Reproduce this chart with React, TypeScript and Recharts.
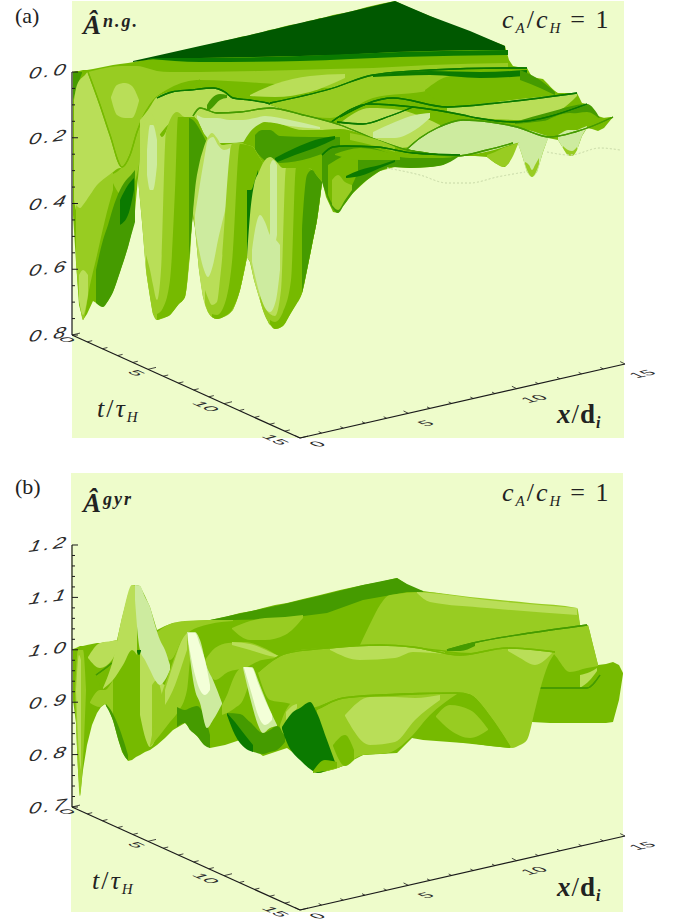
import React from 'react';
import { ComposedChart, Area, XAxis, YAxis, ReferenceLine, ReferenceDot } from 'recharts';

// readings, as [across, top, bottom]; one value pair means a crest line
type Reading = number[];

const BG = '#EEFCCB';
const DK = '#005800';
const D1 = '#0B7A00';
const D2 = '#459B00';
const M1 = '#76BA00';
const M2 = '#98CC22';
const L1 = '#B9DE58';
const L2 = '#CDEB9F';
const WH = '#F3FFD8';
const FAINT = '#CFE0AE';

const tTicks = [0, 1, 2, 3, 4, 5, 6, 7, 8, 9, 10, 11, 12, 13, 14, 15];
const xTicks = [0, 1, 2, 3, 4, 5, 6, 7, 8, 9, 10, 11, 12, 13, 14, 15];
const ampMajorA = [0, 0.2, 0.4, 0.6, 0.8];
const ampMinorA = [0.05, 0.1, 0.15, 0.25, 0.3, 0.35, 0.45, 0.5, 0.55, 0.65, 0.7, 0.75];
const ampMajorB = [0.7, 0.8, 0.9, 1.0, 1.1, 1.2];
const ampMinorB = [0.72, 0.74, 0.76, 0.78, 0.82, 0.84, 0.86, 0.88, 0.92, 0.94, 0.96, 0.98, 1.02, 1.04, 1.06, 1.08, 1.12, 1.14, 1.16, 1.18];

// panel (a)
const aBg: Reading[] = [[72, 1, 438], [624, 1, 438]];
const aBase: Reading[] = [[73,72,215],[76,71,262],[79,71,305],[83,70,320],[87,70,314],[93,69,301],[98,68,304],[103,67,307],[108,66,301],[113,65,292],[120,64,272],[128,63,247],[134,62,222],[138,61,178],[142,60,222],[146,60,270],[150,59,297],[153,58,314],[157,57,320],[162,56,318],[170,54,315],[178,52,305],[185,50,297],[190,49,255],[192,49,213],[195,48,228],[199,47,270],[203,46,297],[208,45,312],[212,44,317],[217,43,319],[223,41,316],[228,40,314],[233,39,310],[240,37,290],[245,36,268],[247,36,257],[250,35,262],[254,34,280],[259,33,297],[263,32,310],[269,30,324],[275,29,329],[282,27,326],[290,25,313],[297,24,302],[302,23,293],[308,21,265],[314,20,235],[317,19,220],[320,18,195],[322,18,180],[326,17,197],[333,15,212],[338,14,213],[344,13,205],[353,11,193],[367,7,180],[380,4,171],[395,1,167],[410,8,168],[430,16,167],[443,22,165],[458,28,156],[475,34,156],[487,39,157],[495,42,163],[503,45,167],[505,46,167],[509,60,163],[513,66,152],[518,67,143],[522,67,155],[527,68,172],[532,77,177],[537,78,172],[543,79,152],[548,84,138],[553,90,139],[558,93,140],[563,93,148],[568,93,155],[572,93,156],[577,93,150],[582,103,136],[587,104,128],[592,110,129],[598,116,131],[604,118,128],[613,117,117]];
const aSheet: Reading[] = [[133,61,62],[160,55,58],[200,46,58],[250,35,57],[300,23,56],[340,14,55],[395,1,52],[430,16,51],[470,31,50],[505,46,50]];
const aSheetBand: Reading[] = [[150,58,59],[200,58,62],[300,56,61],[400,52,57],[508,50,55]];
const aCorner: Reading[] = [[73,72,100],[76,72,90],[82,72,73]];
const aUpper: Reading[] = [[88,72,72],[100,69,105],[110,67,135],[122,66,167],[130,66,155],[137,66,132],[143,67,117],[150,69,105],[157,71,97],[170,72,88],[185,72,82],[200,72,80],[260,71,83],[330,69,88],[373,68,75],[430,65,70],[508,63,68]];
const aBlob: Reading[] = [[111,97,98],[117,85,115],[125,83,118],[132,86,118],[139,100,101]];
const aHatch: Reading[] = [[250,95,96],[275,84,97],[310,76,92],[345,74,78]];
const aLeftLight: Reading[] = [[74,100,200],[77,85,212],[85,75,205],[88,72,200],[92,82,195],[100,105,185],[110,135,175],[120,165,168],[122,167,168]];
const aShoulder: Reading[] = [[110,175,176],[122,167,195],[130,150,190],[138,125,170],[145,110,115]];
const aBackLobe: Reading[] = [[140,120,165],[148,110,150],[157,97,138],[175,91,120],[190,90,118],[213,88,112],[233,98,112],[267,103,110],[285,108,110]];
const aBackFold: Reading[] = [[207,105,112],[212,98,108],[220,94,100],[227,95,98]];
const aCrestOne: Reading[] = [[88,72],[100,105],[110,135],[122,167],[130,155],[137,132],[143,117],[150,105],[157,97],[165,92],[180,88],[200,80]];
const aCrestTwo: Reading[] = [[157,98],[172,92],[190,90],[213,88],[225,92],[233,98],[250,100],[267,103],[285,109]];
const aRightMid: Reading[] = [[270,104,105],[330,89,118],[373,75,98],[430,72,90],[470,72,74]];
const aRightBand: Reading[] = [[425,90,91],[450,76,105],[500,72,100],[540,80,100],[557,93,94]];
const aRidgeStreak: Reading[] = [[373,75,77],[430,71,75],[480,72,78],[527,70,76]];
const aEdgeStreak: Reading[] = [[520,70,80],[540,80,88],[555,92,95]];
const aRidgeTwo: Reading[] = [[270,103],[330,89],[373,75],[430,70],[503,68],[527,68]];
const aLowLight: Reading[] = [[340,123,140],[370,108,145],[400,110,148],[425,118,140],[440,125,130]];
const aLowPale: Reading[] = [[373,132,138],[395,122,138],[415,115,130],[430,113,118]];
const aBandLight: Reading[] = [[447,108,112],[480,104,118],[520,99,120],[560,95,110],[577,93,96]];
const aBandDark: Reading[] = [[515,122,124],[550,112,120],[587,104,112],[600,118,119]];
const aBandMid: Reading[] = [[540,124,125],[570,113,125],[600,118,122],[613,117,118]];
const aPaleBig: Reading[] = [[407,148,149],[420,138,152],[437,128,154],[463,120,155],[490,122,151],[517,127,143],[550,137,138]];
const aRidgeThree: Reading[] = [[340,117],[393,98],[447,107],[497,103],[577,93]];
const aRidgeFour: Reading[] = [[330,123],[370,104],[413,107],[463,115],[477,118],[513,122],[587,104]];
const aRidgeFive: Reading[] = [[337,122],[363,124],[390,116],[413,107]];
const aRidgeSix: Reading[] = [[407,149],[420,138],[437,128],[463,120],[490,122],[517,127],[550,137],[575,132],[590,127],[613,117]];
const aRidgeSeven: Reading[] = [[407,150],[457,156],[487,150],[513,143]];
const aWellE: Reading[] = [[487,155,157],[495,152,163],[503,148,167],[512,145,158],[518,143,144]];
const aWellF: Reading[] = [[518,143,144],[522,140,155],[527,138,172],[532,138,177],[537,138,172],[543,138,152],[548,138,139]];
const aWellFRim: Reading[] = [[525,162,164],[529,165,174],[532,170,177],[535,165,174],[539,158,164]];
const aWellG: Reading[] = [[558,135,140],[563,132,148],[568,130,155],[572,130,156],[577,130,150],[582,128,136],[587,126,128]];
const aWellGRim: Reading[] = [[563,146,148],[568,150,155],[572,151,156],[577,147,150]];
const aLobeLight: Reading[] = [[195,112,118],[200,108,122],[217,113,130],[240,112,140],[270,108,122],[303,115,130],[340,125,130],[377,140,142]];
const aLobePale: Reading[] = [[197,115,118],[205,118,135],[217,118,143],[230,120,143],[243,120,142],[255,118,130],[265,116,122],[290,120,126],[320,127,129]];
const aLobeCrest: Reading[] = [[193,116],[200,108],[217,113],[240,112],[270,108],[303,115],[340,125],[377,140],[407,150],[450,156]];
const aBump: Reading[] = [[243,143,147],[250,132,150],[258,125,155],[265,122,160],[275,127,163],[283,132,163],[310,131,160],[340,129,146],[377,140,152],[413,152,158],[460,155,156]];
const aBumpDark: Reading[] = [[255,135,150],[262,130,158],[270,130,163],[280,136,163],[310,137,158],[340,137,146]];
const aBumpStreak: Reading[] = [[275,158,163],[295,148,155],[315,140,148],[335,136,139]];
const aBumpLight: Reading[] = [[350,133,140],[375,139,146],[395,147,152]];
const aFront: Reading[] = [[322,155,182],[333,147,209],[338,146,213],[344,147,205],[353,147,193],[367,147,180],[380,150,171],[393,155,167],[410,158,168],[430,158,167],[443,158,165],[458,156,157]];
const aFrontMid: Reading[] = [[328,165,195],[336,160,207],[345,155,198],[358,150,172]];
const aFrontLight: Reading[] = [[332,180,205],[338,175,210],[345,182,200],[352,185,190]];
const aFrontStreak: Reading[] = [[346,176,178],[360,170,176],[380,165,168],[395,160,162]];
const aFrontTop: Reading[] = [[335,154,155],[360,148,160],[400,156,160]];
const aFrontCrest: Reading[] = [[322,155],[333,147],[345,146],[377,147],[413,153],[460,155]];
const aWellOne: Reading[] = [[76,205,262],[80,208,305],[83,205,320],[90,195,285],[97,185,255],[105,178,220],[113,172,190]];
const aWellOneTip: Reading[] = [[79,275,300],[83,270,315],[88,275,295]];
const aWellOneDark: Reading[] = [[96,270,303],[103,240,307],[108,225,301],[113,208,292],[120,190,272],[128,178,247],[131,175,236],[135,170,222]];
const aWellOneStreak: Reading[] = [[120,200,225],[128,185,215],[134,178,190]];
const aWellTwo: Reading[] = [[138,178,179],[142,140,222],[146,120,270],[151,113,297],[157,128,320],[162,137,318],[170,123,315],[177,112,305],[185,117,297],[190,117,255],[193,117,213],[200,128,180],[207,143,144]];
const aWellTwoPale: Reading[] = [[147,150,175],[150,125,190],[153,125,190],[157,140,165]];
const aWellTwoMid: Reading[] = [[146,255,270],[150,270,297],[153,285,314],[157,300,320],[161,270,319],[166,132,317],[177,112,305],[185,117,297],[193,117,213],[207,143,144]];
const aWellTwoDeep: Reading[] = [[157,314,320],[163,308,318],[170,280,315],[175,190,309],[178,117,305],[185,117,297],[193,117,213],[207,143,144]];
const aWellTwoEdge: Reading[] = [[189,118,260],[193,120,213],[200,130,180],[207,143,144]];
const aWellThree: Reading[] = [[193,213,214],[195,190,228],[199,165,270],[203,150,297],[208,137,312],[212,133,317],[217,138,319],[222,145,316],[230,144,313],[240,143,290],[247,145,257],[253,147,230],[258,155,195],[263,163,164]];
const aWellThreePale: Reading[] = [[195,215,228],[199,190,250],[204,160,270],[208,140,277],[213,137,265],[218,145,240],[224,150,215],[230,148,190]];
const aWellThreeMid: Reading[] = [[205,290,304],[208,298,312],[212,305,317],[217,302,319],[221,270,318],[232,144,311],[240,143,290],[247,145,257],[253,147,230],[258,155,195],[263,163,164]];
const aWellThreeDeep: Reading[] = [[212,314,317],[217,315,319],[225,303,316],[232,262,310],[240,144,290],[247,145,257],[253,147,230],[258,155,195],[263,163,164]];
const aWellThreeStreak: Reading[] = [[247,190,257],[251,190,245],[255,180,215],[258,170,195]];
const aWellFour: Reading[] = [[247,257,258],[250,215,262],[254,185,280],[259,172,297],[263,163,310],[270,157,324],[275,160,329],[283,168,326],[290,168,313],[297,168,302],[302,168,293],[308,168,265],[314,172,235],[317,176,220],[322,182,183]];
const aWellFourPale: Reading[] = [[252,250,262],[256,225,280],[260,215,295],[265,222,308],[270,235,312],[276,240,300],[280,245,270]];
const aWellFourBright: Reading[] = [[270,165,235],[273,160,250],[277,165,235]];
const aWellFourMid: Reading[] = [[260,296,300],[265,308,316],[270,314,324],[275,316,329],[281,290,327],[286,168,321],[297,168,302],[302,168,293],[308,168,265],[314,172,235],[317,176,220],[322,182,183]];
const aWellFourDeep: Reading[] = [[270,320,324],[275,322,329],[283,312,326],[291,280,313],[296,168,305],[302,168,293],[308,168,265],[314,172,235],[317,176,220],[322,182,183]];
const aWellFourDark: Reading[] = [[302,230,293],[307,175,270],[312,170,245],[317,176,220],[322,182,183]];
const aFaintOne: Reading[] = [[387,168],[420,175],[447,183],[470,183],[497,177],[525,172]];
const aFaintTwo: Reading[] = [[547,152],[570,155],[600,148],[620,150]];

// panel (b)
const bBg: Reading[] = [[71, 473, 912], [623, 473, 912]];
const bBase: Reading[] = [[73,649,700],[76,648,723],[78,647,770],[80,646,796],[83,646,770],[87,645,745],[92,644,725],[97,643,713],[101,643,707],[105,642,704],[109,642,710],[113,641,720],[117,640,735],[122,618,752],[128,595,761],[132,585,760],[136,585,757],[140,586,755],[145,596,752],[150,607,750],[157,630,745],[165,626,738],[173,623,730],[185,622,723],[197,621,736],[210,620,748],[225,617,745],[240,613,740],[252,611,748],[263,608,756],[275,605,752],[287,603,748],[303,599,760],[320,595,773],[340,590,767],[363,585,755],[380,582,754],[397,578,753],[412,588,738],[423,591,740],[463,597,743],[510,604,748],[522,606,743],[532,607,722],[550,607,723],[570,608,723],[577,608,723],[580,625,723],[588,625,723],[598,665,723],[606,664,723],[613,662,722],[619,665,700],[623,673,674]];
const bSheet: Reading[] = [[210,620,621],[233,615,620],[280,605,619],[327,594,613],[363,585,600],[397,578,594],[407,584,592],[423,591,592]];
const bUpper: Reading[] = [[360,645,646],[372,620,645],[380,605,645],[390,595,645],[423,592,648],[470,597,652],[530,603,640],[577,608,633],[580,625,626]];
const bUpperLight: Reading[] = [[417,592,593],[430,593,602],[487,600,608],[577,608,615]];
const bBackLeft: Reading[] = [[157,632,633],[170,624,660],[185,621,635],[210,620,624],[233,620,621]];
const bBackBump: Reading[] = [[232,628,629],[250,621,640],[265,618,640],[285,617,635],[303,615,618]];
const bMidLobe: Reading[] = [[205,660,661],[215,648,680],[228,643,672],[245,642,668],[262,647,660],[280,657,658]];
const bMidSliver: Reading[] = [[232,642,645],[250,644,650],[270,652,656],[281,657,658]];
const bRightRibbon: Reading[] = [[447,650,651],[473,643,653],[530,633,652],[550,630,652],[570,627,672],[587,625,668],[593,645,667],[598,665,666]];
const bRightStreak: Reading[] = [[447,650,651],[460,646,651],[475,642,646]];
const bRightCrest: Reading[] = [[447,650],[473,643],[530,633],[587,625]];
const bEndLight: Reading[] = [[580,675,688],[590,672,680],[597,668,671]];
const bEndLine: Reading[] = [[540,688],[587,688],[600,675]];
const bRibbon: Reading[] = [[258,672,673],[270,662,700],[287,653,703],[310,649,708],[327,648,703],[343,647,698],[380,645,695],[413,647,693],[457,654,693],[470,654,695],[490,651,717],[512,648,748],[520,649,745],[527,650,740],[535,650,710],[540,651,690],[548,652,665],[555,652,653]];
const bRibbonLight: Reading[] = [[330,649,650],[360,646,660],[395,646,658],[413,648,652],[445,652,654]];
const bRibbonPatch: Reading[] = [[508,649,651],[520,649,658],[535,650,665],[545,651,660],[552,652,653]];
const bRibbonCrest: Reading[] = [[258,672],[287,653],[327,648],[380,645],[413,647],[460,655],[507,648],[555,652]];
const bFront: Reading[] = [[317,710,773],[327,705,771],[335,700,769],[343,698,766],[363,697,755],[388,696,753],[412,695,738],[430,694,739],[457,693,742],[470,695,743],[490,717,746],[510,747,748]];
const bFrontMid: Reading[] = [[317,710,773],[327,705,771],[335,700,769],[343,698,766],[363,697,755],[388,696,753],[410,695,738],[430,694,715],[457,693,694]];
const bFrontLight: Reading[] = [[345,715,716],[370,697,745],[395,697,742],[415,698,720],[440,695,700]];
const bFrontJag: Reading[] = [[436,716,717],[450,705,730],[470,710,738],[488,729,730]];
const bFrontEdge: Reading[] = [[333,745,746],[345,735,766],[354,750,760]];
const bFrontCrest: Reading[] = [[317,709],[343,698],[380,695],[457,693],[470,695],[490,717],[510,747]];
const bSpike: Reading[] = [[75,690,691],[78,650,770],[80,650,796],[83,650,760],[86,690,691]];
const bSpikePale: Reading[] = [[76,690,691],[79,655,755],[81,660,770]];
const bShoulder: Reading[] = [[88,657,658],[100,643,668],[112,641,660],[117,640,650]];
const bNotch: Reading[] = [[96,675,676],[103,670,688],[112,663,664]];
const bNotchLine: Reading[] = [[96,675],[103,670],[112,663]];
const bFan: Reading[] = [[90,702,703],[100,690,707],[105,690,704],[110,685,712],[113,680,720]];
const bBodyEdge: Reading[] = [[106,704,706],[112,712,718],[120,730,745],[125,745,757],[128,755,760]];
const bPeakLeft: Reading[] = [[103,688,689],[113,660,680],[123,613,665],[132,585,650],[137,586,655]];
const bPeakLow: Reading[] = [[140,650,715],[146,655,740],[150,665,747],[155,670,740],[160,680,715],[165,685,700],[170,680,682]];
const bPeakCore: Reading[] = [[152,685,745],[157,680,725],[162,695,705]];
const bPeakRight: Reading[] = [[135,585,600],[140,586,650],[145,597,660],[150,607,670],[155,625,680],[160,640,685],[165,650,680],[170,665,670]];
const bPeakDot: Reading[] = [[137,650,652],[139,650,655],[141,650,651]];
const bHumpTwo: Reading[] = [[150,745,747],[160,700,735],[170,670,722],[178,648,712],[187,632,690],[190,632,660],[195,635,637]];
const bHumpTwoLight: Reading[] = [[165,690,705],[173,665,690],[182,640,665],[187,633,650]];
const bFoldTwo: Reading[] = [[177,707,727],[185,710,723],[190,708,730],[197,706,736],[204,715,745],[210,735,748]];
const bSlopeTwo: Reading[] = [[187,632,633],[195,632,690],[200,640,703],[207,667,728],[213,680,720],[222,703,704]];
const bSlopeTwoWhite: Reading[] = [[188,633,640],[195,633,675],[200,645,690],[205,660,695],[210,685,690]];
const bHumpThree: Reading[] = [[222,705,715],[227,695,713],[235,675,708],[243,667,700],[250,667,680]];
const bFoldThree: Reading[] = [[227,713,715],[240,714,738],[250,722,750],[263,733,754],[270,730,752],[277,726,750],[285,735,742]];
const bFoldThreeDark: Reading[] = [[227,713,715],[235,722,735],[245,735,748],[253,745,752]];
const bSlopeThree: Reading[] = [[243,667,668],[252,667,705],[258,680,725],[263,693,733],[270,710,728],[277,725,726]];
const bSlopeThreeWhite: Reading[] = [[244,667,668],[252,668,695],[258,683,715],[265,700,725],[272,715,720]];
const bHumpFour: Reading[] = [[280,725,727],[285,712,735],[292,703,725],[300,702,715],[306,702,706]];
const bHumpFourLight: Reading[] = [[286,712,720],[292,706,715],[297,704,708]];
const bFoldFour: Reading[] = [[282,727,729],[288,718,745],[293,712,753],[300,708,760],[310,702,769],[317,713,773],[327,740,770],[335,762,763]];
const bFoldFourTip: Reading[] = [[313,771,773],[325,760,771],[337,762,768]];

const sharpLayers = [aBg, bBg, aBase, bBase, aSheet, bSheet];

const layersA: [Reading[], string, string?][] = [
  [aBg, BG], [aBase, M1], [aSheet, DK], [aSheetBand, D1], [aUpper, M2], [aBlob, L1], [aHatch, L1],
  [aCorner, D2], [aLeftLight, L1], [aShoulder, M2], [aCrestOne, 'none', M1], [aBackLobe, L1], [aBackFold, D2], [aCrestTwo, 'none', D1],
  [aRightMid, M2], [aRightBand, M1], [aRidgeStreak, D1], [aEdgeStreak, D2], [aRidgeTwo, 'none', D1],
  [aLowLight, L1], [aLowPale, L2], [aBandLight, L1], [aBandDark, D2], [aBandMid, M1], [aPaleBig, L2],
  [aRidgeThree, 'none', D1], [aRidgeFour, 'none', D1], [aRidgeFive, 'none', D1],
  [aWellE, M2], [aWellF, L2], [aWellFRim, M2], [aWellG, L2], [aWellGRim, M2], [aRidgeSix, 'none', D2], [aRidgeSeven, 'none', D2],
  [aLobeLight, L1], [aLobePale, L2], [aLobeCrest, 'none', D2],
  [aBump, M1], [aBumpDark, D2], [aBumpStreak, D1], [aBumpLight, M2],
  [aFront, D2], [aFrontMid, M1], [aFrontLight, M2], [aFrontStreak, D1], [aFrontTop, M1], [aFrontCrest, 'none', D1],
  [aWellOne, M2], [aWellOneTip, L1], [aWellOneDark, D2], [aWellOneStreak, D1],
  [aWellTwo, L1], [aWellTwoPale, L2], [aWellTwoMid, M2], [aWellTwoDeep, M1], [aWellTwoEdge, D2],
  [aWellThree, L1], [aWellThreePale, L2], [aWellThreeMid, M2], [aWellThreeDeep, M1], [aWellThreeStreak, D1],
  [aWellFour, L1], [aWellFourPale, L2], [aWellFourBright, L2], [aWellFourMid, M2], [aWellFourDeep, M1], [aWellFourDark, D2],
  [aFaintOne, 'none', FAINT], [aFaintTwo, 'none', FAINT],
];

const layersB: [Reading[], string, string?][] = [
  [bBg, BG], [bBase, M1], [bSheet, D2], [bUpper, M2], [bUpperLight, L1], [bBackLeft, M2], [bBackBump, M2],
  [bMidLobe, M2], [bMidSliver, L1], [bRightRibbon, M2], [bRightStreak, D2], [bRightCrest, 'none', D2],
  [bEndLight, L1], [bEndLine, 'none', D2],
  [bRibbon, M2], [bRibbonLight, L1], [bRibbonPatch, L1], [bRibbonCrest, 'none', M1],
  [bFront, M1], [bFrontMid, M2], [bFrontLight, L1], [bFrontJag, M2], [bFrontEdge, M1], [bFrontCrest, 'none', M1],
  [bSpike, M2], [bSpikePale, L1], [bShoulder, L1], [bNotch, M1], [bNotchLine, 'none', D2], [bFan, M2], [bBodyEdge, D2],
  [bPeakLeft, L1], [bPeakLow, L1], [bPeakCore, M2], [bPeakRight, L2], [bPeakDot, D1],
  [bHumpTwo, M2], [bHumpTwoLight, L1], [bFoldTwo, D2], [bSlopeTwo, L2], [bSlopeTwoWhite, WH],
  [bHumpThree, M2], [bFoldThree, D2], [bFoldThreeDark, D1], [bSlopeThree, L2], [bSlopeThreeWhite, WH],
  [bHumpFour, M2], [bHumpFourLight, L1], [bFoldFour, D1], [bFoldFourTip, M1],
];

const toRows = (readings: Reading[]) =>
  readings.map(r => ({ x: r[0], range: [r[1], r.length > 2 ? r[2] : r[1]] }));

const SERIF = '"Liberation Serif", "DejaVu Serif", serif';
const STROKE_FONT = '"Liberation Sans", Arial, sans-serif';

const place = (x: number, y: number, node: React.ReactNode, key: string) => (
  <ReferenceDot key={key} yAxisId="plot" x={x} y={y} r={0} ifOverflow="visible"
    shape={(p: any) => <g transform={`translate(${p.cx},${p.cy})`}>{node}</g>} />
);

const seg = (x1: number, y1: number, x2: number, y2: number, key: string, w = 1.2) => (
  <ReferenceLine key={key} yAxisId="plot" ifOverflow="visible" stroke="#1a1a1a" strokeWidth={w}
    segment={[{ x: x1, y: y1 }, { x: x2, y: y2 }]} />
);

const AmpTick = (props: any) => {
  const { y, payload, majors } = props;
  const major = majors.some((m: number) => Math.abs(m - payload.value) < 1e-6);
  return (
    <g>
      <line x1={72} x2={major ? 78 : 75} y1={y} y2={y} stroke="#1a1a1a" strokeWidth={1} />
      {major && (
        <text transform={`matrix(1.35,-0.16,-0.22,1,28,${y + 7})`} fontFamily={STROKE_FONT} fontSize={16}
          letterSpacing={2.4} fill="#2a2a2a" fontStyle="italic" fontWeight={300}>
          {payload.value.toFixed(1)}
        </text>
      )}
    </g>
  );
};

const sideLabelT = (s: string) => (
  <text transform="matrix(1.05,0.47,-0.85,0.22,0,0)" textAnchor="middle" fontFamily={STROKE_FONT} fontSize={17} fill="#2a2a2a">{s}</text>
);
const sideLabelX = (s: string) => (
  <text transform="matrix(1.1,-0.24,0.8,0.36,0,0)" textAnchor="middle" fontFamily={STROKE_FONT} fontSize={17} fill="#2a2a2a">{s}</text>
);

const Ratio = () => (
  <text fontFamily={SERIF} fontSize={26} fill="#222" letterSpacing={2}>
    <tspan fontStyle="italic">c</tspan>
    <tspan fontStyle="italic" fontSize={15} dy={5}>A</tspan>
    <tspan dy={-5}>/</tspan>
    <tspan fontStyle="italic">c</tspan>
    <tspan fontStyle="italic" fontSize={15} dy={5}>H</tspan>
    <tspan dy={-5} dx={8}>= 1</tspan>
  </text>
);

const Amp = ({ sup }: { sup: string }) => (
  <text fontFamily={SERIF} fontSize={27} fontWeight="bold" fontStyle="italic" fill="#222">
    Â<tspan fontSize={18} dy={-7} dx={2} letterSpacing={2}>{sup}</tspan>
  </text>
);

const TimeLabel = () => (
  <text fontFamily={SERIF} fontSize={26} fontStyle="italic" fill="#222" letterSpacing={2}>
    t<tspan fontStyle="normal">/</tspan>τ<tspan fontSize={15} dy={5}>H</tspan>
  </text>
);

const SpaceLabel = () => (
  <text fontFamily={SERIF} fontSize={27} fontWeight="bold" fill="#222" letterSpacing={1}>
    <tspan fontStyle="italic">x</tspan>
    <tspan fontWeight="normal">/</tspan>d<tspan fontStyle="italic" fontSize={16} dy={5}>i</tspan>
  </text>
);

type PanelProps = {
  top: number;
  height: number;
  layers: [Reading[], string, string?][];
  ampDomain: number[];
  majors: number[];
  minors: number[];
  axisTop: number;
  axisBottom: number;
  letter: string;
  sup: string;
  dy: number;
};

const Panel = ({ top, height, layers, ampDomain, majors, minors, axisTop, axisBottom, letter, sup, dy }: PanelProps) => {
  const corner = { x: 300, y: axisBottom + 103 };
  const end = { x: 625, y: axisBottom + 29 };
  const parts: React.ReactNode[] = [];
  parts.push(seg(72, axisTop, 72, axisBottom, 'amp-axis'));
  parts.push(seg(72, axisBottom, corner.x, corner.y, 't-axis'));
  parts.push(seg(corner.x, corner.y, end.x, end.y, 'x-axis'));
  tTicks.forEach(t => {
    const f = t / 15;
    const px = 72 + (corner.x - 72) * f;
    const py = axisBottom + (corner.y - axisBottom) * f;
    const len = t % 5 === 0 ? 1.6 : 1;
    parts.push(seg(px, py, px + 5 * len, py - 1.2 * len, `tt${t}`, 0.8));
    if (t % 5 === 0) parts.push(place(px - 10 - t * 1.3, py + 6 - t * 0.2, sideLabelT(String(t)), `tl${t}`));
  });
  xTicks.forEach(v => {
    const f = v / 15;
    const px = corner.x + (end.x - corner.x) * f;
    const py = corner.y + (end.y - corner.y) * f;
    const len = v % 5 === 0 ? 1.6 : 1;
    parts.push(seg(px, py, px - 3 * len, py - 1.5 * len, `xt${v}`, 0.8));
    if (v % 5 === 0) parts.push(place(px + 22, py + (v === 0 ? 8 : 12), sideLabelX(String(v)), `xl${v}`));
  });
  parts.push(place(15, 23 + dy - (dy ? 2 : 0), <text fontFamily={SERIF} fontSize={22} fill="#222">{letter}</text>, 'letter'));
  parts.push(place(83, 34 + dy + (dy ? 5 : 0), <Amp sup={sup} />, 'amp'));
  parts.push(place(502, 28 + dy, <Ratio />, 'ratio'));
  parts.push(place(dy ? 92 : 97, 417 + dy - (dy ? 1 : 0), <TimeLabel />, 'time'));
  parts.push(place(557, 423 + dy, <SpaceLabel />, 'space'));

  return (
    <div style={{ position: 'absolute', left: 0, top, width: 673, height }}>
      <ComposedChart width={673} height={height} margin={{ top: 0, right: 0, bottom: 0, left: 0 }}>
        <XAxis dataKey="x" type="number" domain={[0, 673]} hide allowDataOverflow />
        <YAxis yAxisId="plot" type="number" domain={[top, top + height]} reversed hide allowDataOverflow />
        <YAxis yAxisId="amp" type="number" domain={ampDomain} reversed={majors[0] === 0}
          ticks={[...majors, ...minors]} interval={0} mirror width={1} axisLine={false} tickLine={false}
          allowDataOverflow tick={<AmpTick majors={majors} />} />
        {layers.map(([rows, fill, stroke], i) => (
          <Area key={i} yAxisId="plot" data={toRows(rows)} dataKey="range" type={sharpLayers.includes(rows) ? 'linear' : 'monotone'}
            fill={fill} fillOpacity={1} stroke={stroke ?? 'none'} strokeWidth={stroke ? (stroke === FAINT ? 0.8 : 1.3) : 0}
            strokeDasharray={stroke === FAINT ? '2 2' : undefined}
            dot={false} activeDot={false} isAnimationActive={false} />
        ))}
        {parts}
      </ComposedChart>
    </div>
  );
};

export default function App() {
  return (
    <div style={{ position: 'absolute', left: 0, top: 0, width: 673, height: 923 }}>
      <Panel top={0} height={460} layers={layersA} ampDomain={[-0.219, 1.1802]} majors={ampMajorA} minors={ampMinorA}
        axisTop={72} axisBottom={335} letter="(a)" sup="n.g." dy={0} />
      <Panel top={460} height={463} layers={layersB} ampDomain={[0.4786, 1.3622]} majors={ampMajorB} minors={ampMinorB}
        axisTop={545} axisBottom={807} letter="(b)" sup="gyr" dy={473} />
    </div>
  );
}
